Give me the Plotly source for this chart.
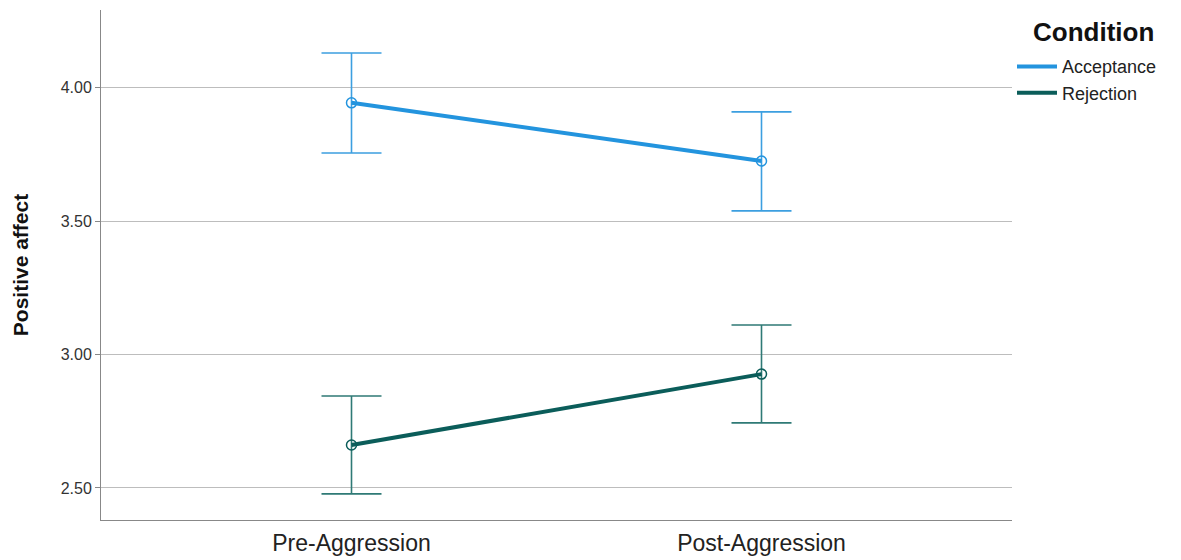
import plotly.graph_objects as go

categories = ["Pre-Aggression", "Post-Aggression"]
cat_pos = [0, 1]
acceptance_mean = [3.944, 3.726]
acceptance_upper = [4.131, 3.910]
acceptance_lower = [3.756, 3.539]
rejection_mean = [2.661, 2.927]
rejection_upper = [2.845, 3.111]
rejection_lower = [2.478, 2.744]
y_ticks = [2.5, 3.0, 3.5, 4.0]
y_ticklabels = ["2.50", "3.00", "3.50", "4.00"]

FONT = "Liberation Sans, Arial, sans-serif"

def series(name, mean, up, lo, color, ecolor):
    return go.Scatter(
        x=cat_pos, y=mean, name=name, mode="lines+markers", showlegend=False,
        line=dict(color=color, width=4),
        marker=dict(symbol="circle-open", size=10, color=color, line=dict(width=1.5)),
        error_y=dict(type="data", symmetric=False,
                     array=[u - m for u, m in zip(up, mean)],
                     arrayminus=[m - l for l, m in zip(lo, mean)],
                     color=ecolor, thickness=1.6, width=30),
    )

def legend_entry(name, color):
    return go.Scatter(x=[None], y=[None], name=name, mode="lines",
                      line=dict(color=color, width=4), showlegend=True)

fig = go.Figure()
fig.add_trace(series("Acceptance", acceptance_mean, acceptance_upper, acceptance_lower, "#2394de", "#3c9fe0"))
fig.add_trace(series("Rejection", rejection_mean, rejection_upper, rejection_lower, "#0b5d5a", "#2f7a76"))
fig.add_trace(legend_entry("Acceptance", "#2394de"))
fig.add_trace(legend_entry("Rejection", "#0b5d5a"))

fig.add_annotation(
    text="<b>Condition</b>", xref="paper", yref="paper", x=1.089, y=0.957,
    xanchor="center", yanchor="middle", showarrow=False,
    font=dict(size=26, color="#111", family=FONT),
)

fig.update_layout(
    width=1165, height=552,
    margin=dict(l=93, r=161, t=2, b=40),
    paper_bgcolor="white", plot_bgcolor="white",
    font=dict(family=FONT, color="#222"),
    showlegend=True,
    legend=dict(
        x=1.0, xanchor="left", y=0.925, yanchor="top",
        font=dict(size=18, color="#222"),
        itemwidth=40, tracegroupgap=0,
    ),
    xaxis=dict(
        range=[-0.611, 1.611], tickmode="array", tickvals=cat_pos, ticktext=categories,
        showgrid=False, zeroline=False, showline=True, linecolor="#888", linewidth=1,
        ticks="", tickfont=dict(size=23, color="#222"), ticklabelstandoff=2, fixedrange=True,
    ),
    yaxis=dict(
        range=[2.38, 4.292], tickmode="array", tickvals=y_ticks, ticktext=y_ticklabels,
        showgrid=True, gridcolor="#bdbdbd", gridwidth=1, zeroline=False,
        showline=True, linecolor="#888", linewidth=1,
        ticks="outside", ticklen=5, tickcolor="#888",
        tickfont=dict(size=16, color="#333"),
        title=dict(text="<b>Positive affect</b>", font=dict(size=21, color="#111"), standoff=26),
    ),
)

fig.write_html("out.html")
